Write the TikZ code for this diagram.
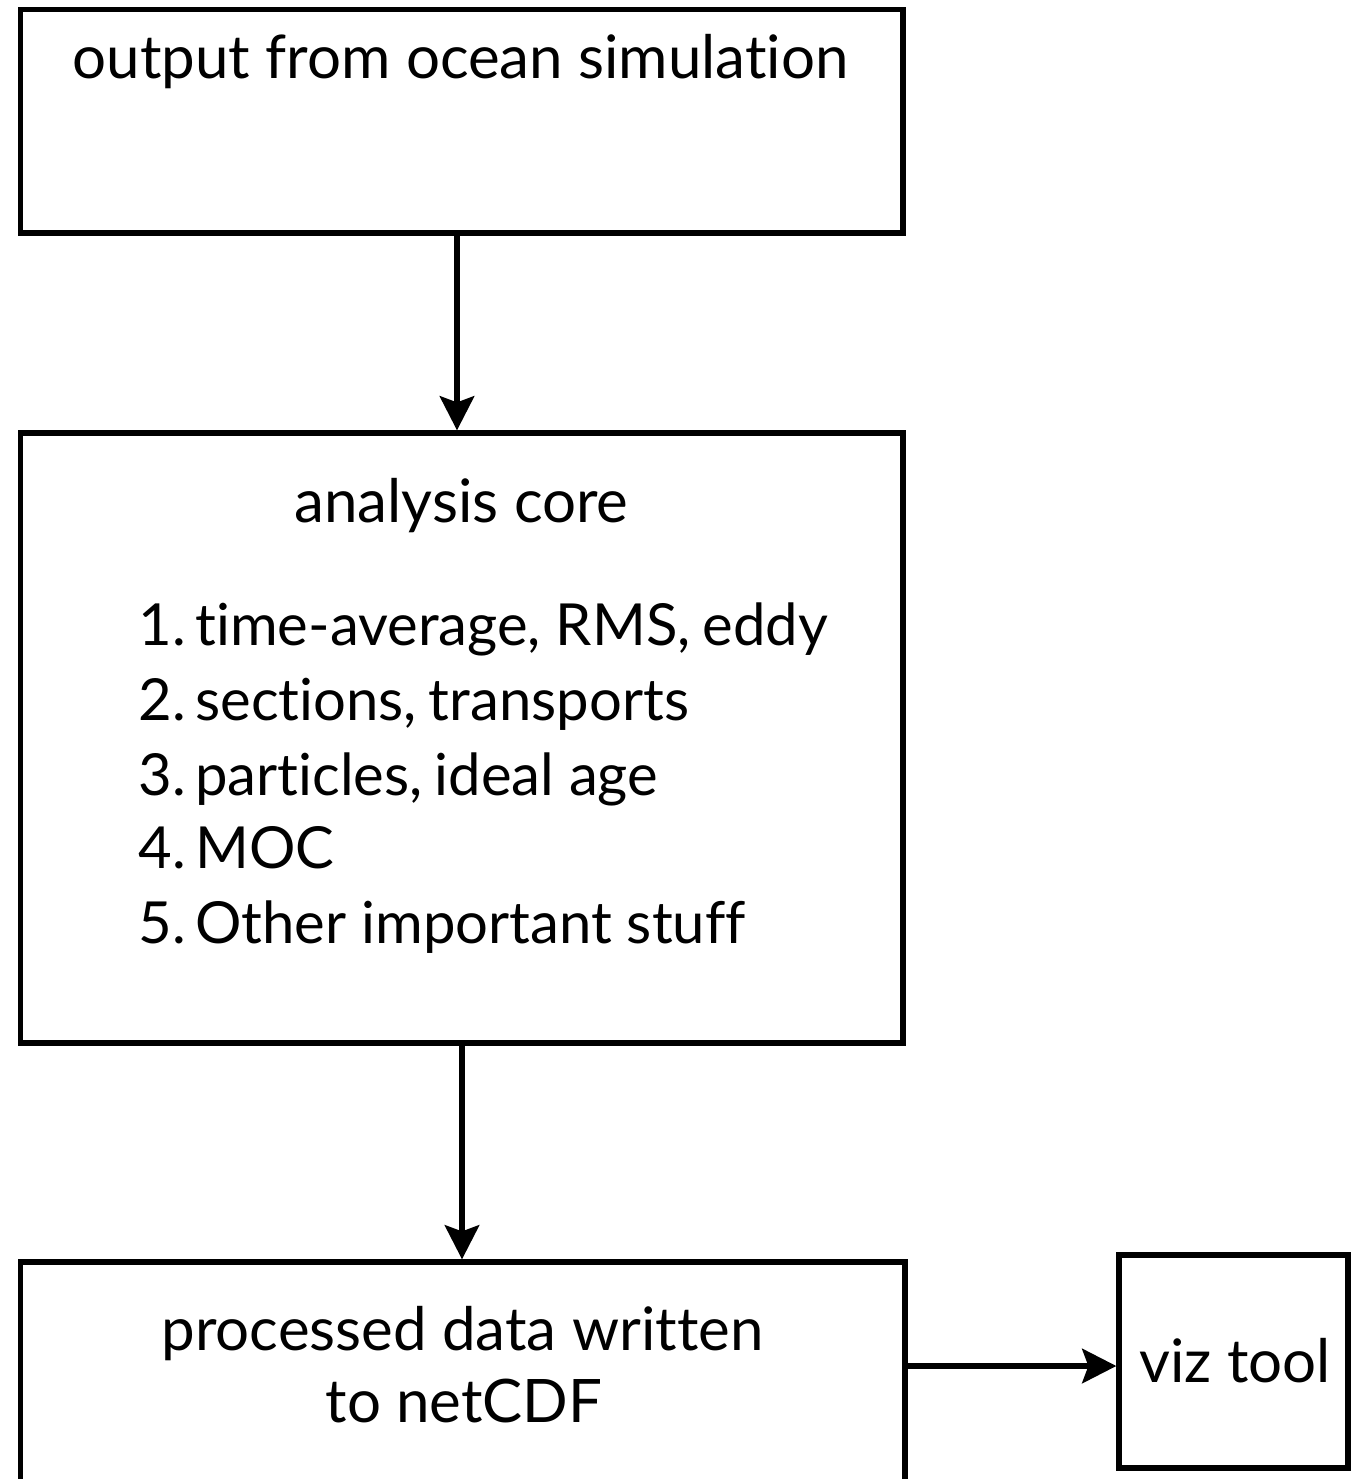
\documentclass[tikz,border=0pt]{standalone}
\usepackage{fontspec}
\setmainfont[Ligatures={NoCommon,NoDiscretionary}]{Lato}
\usetikzlibrary{arrows.meta}
\newcommand{\itemnum}[1]{\makebox[28.5pt][l]{#1}}
\tikzset{
  box/.style={draw=black, line width=2.6pt, inner sep=0pt, fill=none},
  lbl/.style={inner sep=0pt, font=\fontsize{30}{36}\selectfont, anchor=base},
  item/.style={inner sep=0pt, font=\fontsize{29}{35}\selectfont, anchor=base west},
  arr/.style={line width=3.4pt, -{Stealth[length=17pt,width=17pt,inset=3pt]}}
}
\begin{document}
\begin{tikzpicture}[x=0.5pt,y=-0.5pt]
\useasboundingbox (0,0) rectangle (1362,1479);
\fill[white] (0,0) rectangle (1362,1479);
\clip (0,0) rectangle (1362,1479);
\node[box, minimum width=441.25pt, minimum height=111.75pt] (b1) at (461.75,121.25) {};
\node[box, minimum width=441.25pt, minimum height=305pt] (b2) at (461.75,738) {};
\node[box, minimum width=442.25pt, minimum height=149pt] (b3) at (462.75,1411) {};
\node[box, minimum width=114.5pt, minimum height=106.5pt] (viz) at (1233.5,1361.5) {};
\node[lbl] (t1) at (460.5,78) {output from ocean simulation};
\node[lbl] (t2) at (461.5,522) {analysis core};
\node[item] (i1) at (138,645) {\itemnum{1.}time-average, RMS,\hspace{-1.5pt} eddy};
\node[item] (i2) at (138,720) {\itemnum{2.}sections,\hspace{-1.5pt} transports};
\node[item] (i3) at (138,795) {\itemnum{3.}particles,\hspace{-1.5pt} ideal age};
\node[item] (i4) at (138,868) {\itemnum{4.}MOC};
\node[item] (i5) at (138,943) {\itemnum{5.}Other important stuff};
\node[lbl] (t3a) at (462.5,1350) {processed data written};
\node[lbl] (t3b) at (464,1422) {to netCDF};
\node[lbl] (tv) at (1235,1382) {viz tool};
\coordinate (x1) at (457,0);
\coordinate (x2) at (462,0);
\coordinate (y3) at (0,1366);
\draw[arr] (b1.south -| x1) -- (b2.north -| x1);
\draw[arr] (b2.south -| x2) -- (b3.north -| x2);
\draw[arr] (b3.east |- y3) -- (viz.west |- y3);
\end{tikzpicture}
\end{document}
